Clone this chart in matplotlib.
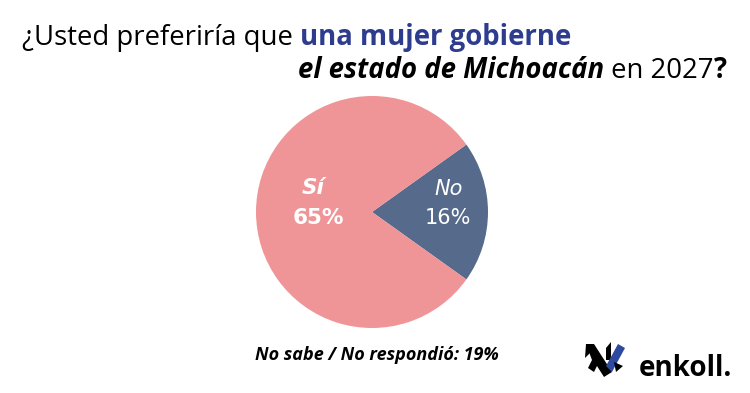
import matplotlib
matplotlib.use("Agg")
import matplotlib.pyplot as plt
from matplotlib.patches import Polygon

# data
labels = ["No", "Sí"]
values = [16, 65]
no_sabe = 19
colors = ["#566b8b", "#ef9598"]
blue_title = "#2d3c8e"

W, H = 750, 393
fig = plt.figure(figsize=(7.5, 3.93), dpi=100)
fig.patch.set_facecolor("white")

def fx(x):
    return x / W

def fy(y):
    return 1 - y / H

# pie: center (372, 212), radius 116 px
r = 116
ax = fig.add_axes([fx(372 - r), fy(212 + r), 2 * r / W, 2 * r / H])
ax.pie(values, colors=colors, startangle=-values[0] / sum(values) * 180,
       counterclock=True, radius=1, wedgeprops=dict(linewidth=0))
ax.set_xlim(-1, 1)
ax.set_ylim(-1, 1)
ax.set_aspect("auto")
ax.axis("off")

fam = ["Open Sans", "DejaVu Sans"]
pfam = ["DejaVu Sans"]
fig.text(fx(313), fy(188), "Sí", color="white", fontsize=15.5, fontweight="bold",
         fontstyle="italic", ha="center", va="center", family=pfam)
fig.text(fx(318), fy(218), f"{values[1]}%", color="white", fontsize=15.5,
         fontweight="bold", ha="center", va="center", family=pfam)
fig.text(fx(449), fy(189), "No", color="white", fontsize=15, fontstyle="italic",
         ha="center", va="center", family=pfam)
fig.text(fx(448), fy(218), f"{values[0]}%", color="white", fontsize=15,
         ha="center", va="center", family=pfam)

fig.text(fx(377), fy(355), f"No sabe / No respondió: {no_sabe}%", color="black",
         fontsize=13, fontweight="bold", fontstyle="italic", ha="center",
         va="center", family=fam)

# title built from pieces
fig.canvas.draw()
renderer = fig.canvas.get_renderer()

def row(parts, x0, y, align="left"):
    texts = []
    for s, kw in parts:
        t = fig.text(0, fy(y), s, va="baseline", ha="left", family=fam,
                     fontsize=19.8, **kw)
        texts.append(t)
    widths = [t.get_window_extent(renderer).width for t in texts]
    x = x0 if align == "left" else x0 - sum(widths)
    for t, w in zip(texts, widths):
        t.set_x(fx(x))
        x += w

row([("¿Usted preferiría que ", dict(color="black")),
     ("una mujer gobierne", dict(color=blue_title, fontweight="bold"))], 22, 45)
row([("el estado de Michoacán", dict(color="black", fontweight="bold", fontstyle="italic")),
     (" en 2027", dict(color="black")),
     ("?", dict(color="black", fontweight="bold"))], 727, 78, align="right")

# logo
def poly(pts, color):
    fig.patches.append(Polygon([(fx(a), fy(b)) for a, b in pts], closed=True,
                               transform=fig.transFigure, facecolor=color,
                               edgecolor="none", figure=fig))

poly([(586, 344), (594, 344), (612, 372), (604, 377), (597, 366), (594, 372), (588, 368), (592, 360)], "black")
poly([(586, 344), (592, 344), (591, 352), (585, 358)], "black")
poly([(606, 348), (611, 342), (611, 360), (606, 360)], "black")
poly([(618, 344), (625, 348), (612, 372), (606, 366)], "#2d4a9e")
poly([(614, 362), (623, 366), (616, 372)], "black")
fig.text(fx(639), fy(368), "enkoll.", color="black", fontsize=20, fontweight="bold",
         va="center", ha="left", family=fam)

fig.savefig("out.png", dpi=100)
